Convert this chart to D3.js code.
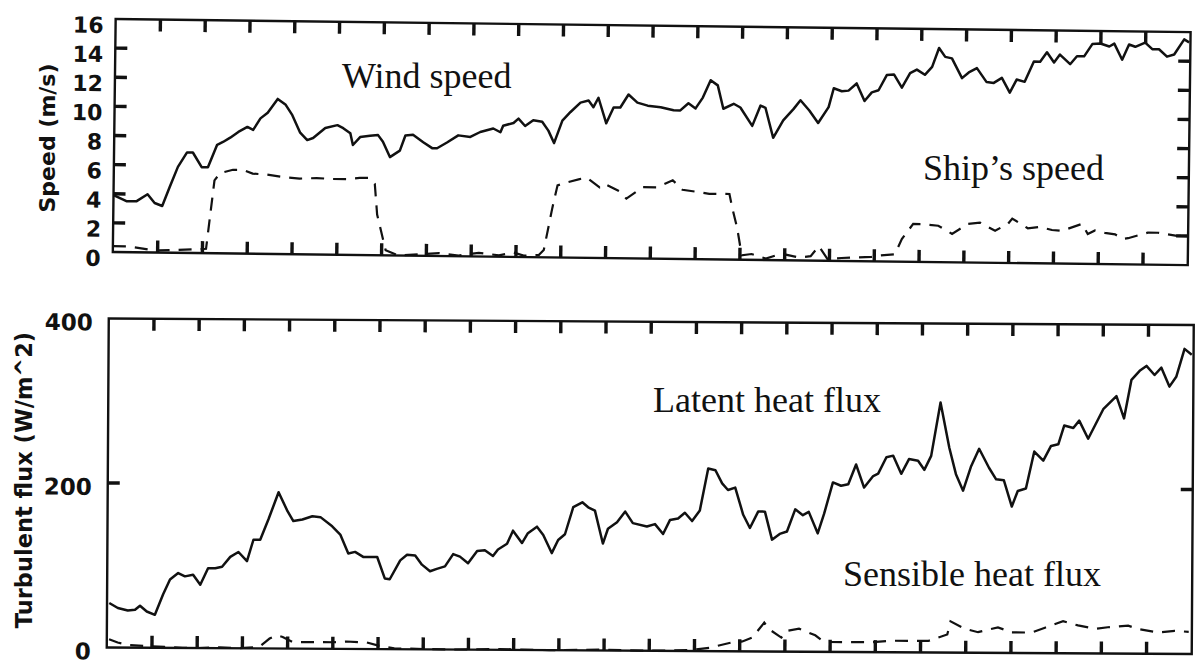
<!DOCTYPE html>
<html>
<head>
<meta charset="utf-8">
<script src="https://cdn.jsdelivr.net/npm/d3@7"></script>
<style>
  body { margin: 0; background: #fff; }
  svg { display: block; }
</style>
</head>
<body>
<svg id="chart" width="1196" height="663"></svg>
<script>
// ---- data: time along the track (0–24) paired with values ----
const hourTicks = [1, 2, 3, 4, 5, 6, 7, 8, 9, 10, 11, 12, 13, 14, 15, 16, 17, 18, 19, 20, 21, 22, 23];
const speedTicks = [0, 2, 4, 6, 8, 10, 12, 14, 16];
const fluxTicks = [0, 200, 400];

const windSpeed = [
  [0,3.9],[0.29,3.5],[0.51,3.5],[0.76,4.0],[0.92,3.4],[1.09,3.2],[1.25,4.5],[1.43,5.9],[1.63,6.9],[1.76,6.9],
  [1.96,5.9],[2.10,5.9],[2.30,7.45],[2.43,7.65],[2.59,7.95],[2.77,8.35],[2.97,8.7],[3.10,8.5],[3.26,9.3],[3.42,9.7],
  [3.64,10.65],[3.82,10.25],[3.97,9.55],[4.15,8.35],[4.31,7.85],[4.44,8.0],[4.71,8.7],[4.98,8.9],[5.11,8.7],[5.27,8.35],
  [5.33,7.55],[5.49,8.1],[5.71,8.2],[5.89,8.25],[6.00,7.8],[6.16,6.75],[6.38,7.2],[6.50,8.25],[6.67,8.3],[6.90,7.8],
  [7.10,7.4],[7.21,7.4],[7.43,7.8],[7.68,8.3],[7.95,8.2],[8.17,8.55],[8.46,8.8],[8.62,8.55],[8.68,9.0],[8.91,9.2],
  [9.02,9.5],[9.17,9.0],[9.35,9.4],[9.55,9.3],[9.69,8.7],[9.82,7.85],[10.00,9.4],[10.18,10.0],[10.40,10.65],[10.58,10.8],
  [10.69,10.35],[10.80,11.0],[10.98,9.25],[11.14,10.35],[11.29,10.35],[11.47,11.25],[11.67,10.7],[11.90,10.5],[12.19,10.4],[12.48,10.2],
  [12.63,10.2],[12.81,10.7],[12.97,10.35],[13.13,11.1],[13.30,12.3],[13.46,11.95],[13.59,10.35],[13.82,10.7],[13.97,10.45],[14.24,9.2],
  [14.42,10.6],[14.53,10.45],[14.71,8.4],[14.93,9.6],[15.16,10.4],[15.31,11.0],[15.51,10.3],[15.71,9.45],[15.94,10.55],[16.05,11.85],
  [16.23,11.65],[16.38,11.7],[16.56,12.2],[16.74,11.0],[16.90,11.6],[17.05,11.75],[17.23,12.8],[17.39,12.85],[17.57,11.95],[17.75,12.95],
  [17.90,13.2],[18.08,12.85],[18.24,13.4],[18.39,14.7],[18.53,14.1],[18.68,14.0],[18.91,12.65],[19.06,13.05],[19.24,13.35],[19.46,12.4],
  [19.62,12.35],[19.80,12.7],[19.98,11.7],[20.13,12.6],[20.31,12.45],[20.51,13.85],[20.65,13.85],[20.80,14.5],[20.96,13.8],[21.09,14.35],
  [21.32,13.7],[21.47,14.25],[21.63,14.25],[21.81,15.1],[21.99,15.15],[22.19,14.95],[22.30,15.15],[22.48,14.05],[22.63,15.1],[22.77,14.95],
  [22.99,15.25],[23.15,14.8],[23.30,14.8],[23.48,14.3],[23.64,14.45],[23.86,15.5],[23.97,15.3]
];

const shipSpeed = [
  [0,0.4],[0.36,0.4],[0.80,0.2],[1.03,0.15],[1.47,0.2],[1.81,0.25],[2.08,0.3],[2.25,5.0],[2.37,5.5],[2.66,5.75],
  [2.88,5.75],[3.10,5.5],[3.42,5.45],[3.77,5.3],[4.15,5.2],[4.53,5.25],[4.89,5.2],[5.20,5.2],[5.49,5.3],[5.71,5.3],
  [5.83,4.9],[5.89,2.8],[6.09,0.35],[6.38,0.0],[6.83,0.1],[7.28,0.2],[7.72,0.05],[8.17,0.25],[8.62,0.1],[8.95,0.3],
  [9.17,0.1],[9.51,0.15],[9.62,0.5],[9.80,3.4],[9.91,4.95],[10.11,5.15],[10.40,5.4],[10.56,5.5],[10.85,4.85],[10.96,5.1],
  [11.29,4.6],[11.45,4.1],[11.81,4.9],[12.14,4.9],[12.48,5.4],[12.70,4.75],[13.08,4.6],[13.30,4.5],[13.53,4.5],[13.75,4.5],
  [13.82,3.5],[13.93,2.2],[14.04,0.3],[14.26,0.4],[14.58,0.1],[14.93,0.45],[15.31,0.2],[15.58,0.3],[15.76,1.0],[15.96,0.1],
  [16.27,0.2],[16.56,0.25],[16.94,0.3],[17.12,0.4],[17.46,0.5],[17.61,1.55],[17.86,2.6],[18.06,2.6],[18.42,2.5],[18.73,1.95],
  [19.08,2.65],[19.35,2.75],[19.69,2.2],[19.98,2.7],[20.07,3.05],[20.42,2.4],[20.69,2.5],[20.96,2.3],[21.18,2.25],[21.63,2.75],
  [21.76,2.05],[21.92,2.3],[22.14,2.15],[22.37,2.05],[22.54,1.75],[22.66,1.8],[23.10,2.2],[23.33,2.2],[23.75,2.0],[23.97,2.0]
];

const latentFlux = [
  [0.05,54],[0.24,48],[0.46,45],[0.62,46],[0.73,51],[0.88,44],[1.06,40],[1.24,65],[1.39,83],[1.57,91],
  [1.72,87],[1.90,89],[2.06,77],[2.23,97],[2.39,97],[2.54,99],[2.72,111],[2.90,117],[3.09,106],[3.23,132],
  [3.38,132],[3.56,157],[3.78,190],[3.98,167],[4.11,155],[4.31,157],[4.53,161],[4.71,160],[4.97,149],[5.15,139],
  [5.33,116],[5.48,118],[5.66,112],[5.97,112],[6.14,86],[6.25,85],[6.48,108],[6.63,115],[6.81,114],[6.96,103],
  [7.14,95],[7.29,98],[7.47,101],[7.65,116],[7.80,113],[7.98,105],[8.18,120],[8.35,121],[8.53,114],[8.64,122],
  [8.84,129],[8.97,145],[9.17,130],[9.30,142],[9.50,150],[9.64,140],[9.83,118],[9.97,134],[10.12,141],[10.30,174],
  [10.50,180],[10.63,174],[10.78,170],[10.96,130],[11.07,148],[11.27,156],[11.45,169],[11.62,155],[11.93,151],[12.11,154],
  [12.29,142],[12.44,159],[12.62,161],[12.77,168],[12.93,158],[13.10,171],[13.28,222],[13.44,220],[13.59,204],[13.72,196],
  [13.88,199],[14.06,166],[14.21,150],[14.39,170],[14.54,170],[14.70,136],[14.87,143],[15.03,146],[15.21,173],[15.38,166],
  [15.51,170],[15.71,144],[15.85,168],[16.04,206],[16.22,202],[16.38,204],[16.55,228],[16.73,200],[16.93,214],[17.04,217],
  [17.22,237],[17.37,239],[17.55,217],[17.72,235],[17.92,233],[18.06,222],[18.21,239],[18.41,304],[18.61,249],[18.76,217],
  [18.92,197],[19.09,226],[19.27,248],[19.49,225],[19.65,211],[19.82,210],[20.00,178],[20.13,197],[20.31,200],[20.49,245],
  [20.69,234],[20.86,252],[21.02,254],[21.15,277],[21.35,274],[21.48,283],[21.68,261],[22.01,297],[22.30,313],[22.47,286],
  [22.63,333],[22.81,344],[22.96,350],[23.14,339],[23.29,348],[23.47,325],[23.62,337],[23.80,371],[23.96,364]
];

const sensibleFlux = [
  [0.05,10],[0.24,6],[0.51,3],[0.88,2],[1.28,1],[1.68,0],[2.06,0],[2.50,1],[2.94,0],[3.38,2],
  [3.51,8],[3.60,12],[3.76,16],[3.89,14],[4.11,8],[4.42,8],[5.00,8],[5.30,9],[5.75,8],[6.03,4],
  [6.36,1],[7.58,0],[8.69,1],[9.79,0],[10.90,1],[12.00,0],[12.88,1],[13.33,4],[13.77,10],[14.06,12],
  [14.28,17],[14.54,35],[14.65,27],[14.92,17],[15.03,25],[15.31,28],[15.67,20],[15.82,14],[15.96,12],[16.40,12],
  [16.93,12],[17.37,14],[17.88,14],[18.17,14],[18.59,22],[18.66,38],[18.98,29],[19.27,25],[19.71,31],[20.02,25],
  [20.46,25],[20.75,31],[21.15,39],[21.48,34],[21.86,30],[22.14,32],[22.59,34],[22.81,30],[23.25,26],[23.62,28],
  [23.93,27]
];

// ---- drawing ----
const svg = d3.select("#chart");
const INK = "#111";
const TICK_LEN = 12;

function drawPanel(cfg) {
  const x0 = cfg.cx - cfg.w / 2, x1 = cfg.cx + cfg.w / 2;
  const y0 = cfg.cy - cfg.h / 2, y1 = cfg.cy + cfg.h / 2;
  const x = d3.scaleLinear().domain([0, 24]).range([x0, x1]);
  const y = d3.scaleLinear().domain(cfg.yDomain).range([y1, y0]);

  const g = svg.append("g")
    .attr("transform", `rotate(${cfg.angle},${cfg.cx},${cfg.cy})`);

  // frame
  g.append("path")
    .attr("d", `M${x0},${y0}H${x1}V${y1}H${x0}Z`)
    .attr("fill", "none").attr("stroke", INK).attr("stroke-width", 2.4);

  // inward tick marks on every side, each as a short two-point line
  const seg = d3.line();
  const inner = cfg.yTicks.slice(1, -1);
  const tickSegs = [
    ...hourTicks.map(h => [[x(h), y1], [x(h), y1 - TICK_LEN]]),
    ...hourTicks.map(h => [[x(h), y0], [x(h), y0 + TICK_LEN]]),
    ...inner.map(v => [[x0, y(v)], [x0 + TICK_LEN, y(v)]]),
    ...inner.map(v => [[x1, y(v)], [x1 - TICK_LEN, y(v)]])
  ];
  tickSegs.forEach(s => {
    g.append("path").datum(s).attr("d", seg)
      .attr("fill", "none").attr("stroke", INK).attr("stroke-width", 3.4);
  });

  // tick labels
  g.append("g").selectAll("text").data(cfg.yTicks).join("text")
    .attr("x", x0 - cfg.labelGap)
    .attr("y", d => y(d) + cfg.labelDrop)
    .attr("text-anchor", "end")
    .attr("font-family", "DejaVu Sans")
    .attr("font-weight", "bold")
    .attr("font-size", cfg.labelSize)
    .attr("fill", INK)
    .text(d => d);

  const line = d3.line().x(d => x(d[0])).y(d => y(d[1]));
  g.append("path").datum(cfg.solid).attr("d", line)
    .attr("fill", "none").attr("stroke", INK).attr("stroke-width", 2.5)
    .attr("stroke-linejoin", "round");
  g.append("path").datum(cfg.dashed).attr("d", line)
    .attr("fill", "none").attr("stroke", INK).attr("stroke-width", 2.2)
    .attr("stroke-dasharray", "13 9");
}

drawPanel({
  cx: 651.7, cy: 142.1, w: 1075, h: 233, angle: 0.7,
  yDomain: [0, 16], yTicks: speedTicks,
  labelGap: 12, labelDrop: 14, labelSize: 22,
  solid: windSpeed, dashed: shipSpeed
});

drawPanel({
  cx: 650.25, cy: 486.25, w: 1085, h: 329, angle: 0.35,
  yDomain: [0, 400], yTicks: fluxTicks,
  labelGap: 16, labelDrop: 12, labelSize: 23,
  solid: latentFlux, dashed: sensibleFlux
});

// axis titles
svg.append("text")
  .attr("transform", "translate(55,138) rotate(-90)")
  .attr("text-anchor", "middle")
  .attr("font-family", "DejaVu Sans").attr("font-weight", "bold").attr("font-size", 22)
  .attr("fill", INK)
  .text("Speed (m/s)");
svg.append("text")
  .attr("transform", "translate(32,480) rotate(-90)")
  .attr("text-anchor", "middle")
  .attr("font-family", "DejaVu Sans").attr("font-weight", "bold").attr("font-size", 22.5)
  .attr("fill", INK)
  .text("Turbulent flux (W/m^2)");

// series annotations
const notes = [
  { text: "Wind speed", x: 342, y: 88 },
  { text: "Ship\u2019s speed", x: 923, y: 180 },
  { text: "Latent heat flux", x: 653, y: 412 },
  { text: "Sensible heat flux", x: 843, y: 586 }
];
svg.append("g").selectAll("text").data(notes).join("text")
  .attr("x", d => d.x).attr("y", d => d.y)
  .attr("font-family", "Liberation Serif")
  .attr("font-size", 36)
  .attr("fill", INK)
  .text(d => d.text);
</script>
</body>
</html>
